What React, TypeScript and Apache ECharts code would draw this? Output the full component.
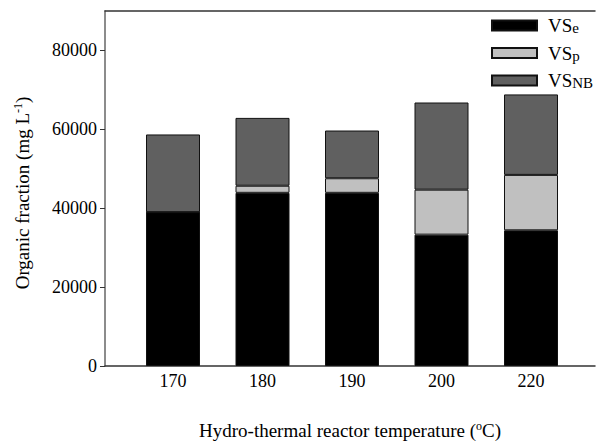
import React, { useEffect, useRef } from "react";
import * as echarts from "echarts";

const categories = ["170", "180", "190", "200", "220"];
const vsE = [39000, 43900, 43900, 33300, 34400];
const vsP = [0, 1800, 3700, 11400, 14050];
const vsNB = [19700, 17200, 12100, 22100, 20400];
const yTicks = [0, 20000, 40000, 60000, 80000];
const seriesNames = ["VSe", "VSp", "VSNB"];

const FONT = "'Liberation Serif', 'Times New Roman', serif";

export default function App() {
  const ref = useRef<HTMLDivElement>(null);
  useEffect(() => {
    document.body.style.margin = "0";
    if (!ref.current) return;
    const chart = echarts.init(ref.current, null, { renderer: "svg" });
    const mk = (name: string, vals: number[], color: string) => ({
      name,
      type: "bar",
      stack: "total",
      barWidth: 54,
      xAxisIndex: 0,
      yAxisIndex: 0,
      data: vals,
      itemStyle: { color, borderColor: "#111", borderWidth: 1 },
      emphasis: { disabled: true },
    });
    const subMap: Record<string, string> = { VSe: "e", VSp: "p", VSNB: "NB" };
    const lineOnly = (pos: string) => ({
      type: "value",
      gridIndex: 1,
      position: pos,
      min: 0,
      max: 1,
      splitLine: { show: false },
      axisLine: { show: true, onZero: false, lineStyle: { color: "#333", width: 1.5 } },
      axisTick: { show: false },
      axisLabel: { show: false },
    });
    chart.setOption({
      animation: false,
      backgroundColor: "#fff",
      grid: [
        { left: 128.25, right: 21.25, top: 11, bottom: 78, containLabel: false },
        { left: 105, right: 2, top: 11, bottom: 78, containLabel: false },
      ],
      xAxis: [
        {
          type: "category",
          gridIndex: 0,
          data: categories,
          boundaryGap: true,
          axisLine: { show: false },
          axisTick: { show: false },
          axisLabel: {
            fontFamily: FONT,
            fontSize: 18,
            color: "#000",
            margin: 6,
          },
        },
        lineOnly("bottom"),
        lineOnly("top"),
      ],
      yAxis: [
        {
          type: "value",
          gridIndex: 0,
          min: 0,
          max: 90000,
          show: false,
          splitLine: { show: false },
        },
        {
          type: "value",
          gridIndex: 1,
          min: 0,
          max: 90000,
          splitLine: { show: false },
          axisLine: { show: true, onZero: false, lineStyle: { color: "#666", width: 1.5 } },
          axisTick: {
            show: true,
            customValues: yTicks,
            length: 5,
            lineStyle: { color: "#333" },
          },
          axisLabel: {
            customValues: yTicks,
            formatter: (v: number) => String(v),
            fontFamily: FONT,
            fontSize: 18,
            color: "#000",
            margin: 8,
          },
        },
      ],
      legend: {
        orient: "vertical",
        left: 491,
        top: 16,
        padding: 0,
        width: 106,
        itemWidth: 45,
        itemHeight: 10,
        itemGap: 8,
        icon: "rect",
        data: seriesNames,
        formatter: (name: string) => `{n|VS}{s|${subMap[name]}}`,
        textStyle: {
          color: "#000",
          padding: [0, 0, 0, 6],
          rich: {
            n: { fontFamily: FONT, fontSize: 19, lineHeight: 20, color: "#000", verticalAlign: "middle" },
            s: { fontFamily: FONT, fontSize: 15, lineHeight: 8, color: "#000", verticalAlign: "bottom" },
          },
        },
      },
      graphic: [
        {
          type: "text",
          x: 22,
          y: 193,
          rotation: Math.PI / 2,
          style: {
            text: "{n|Organic fraction (mg L}{s|-1}{n|)}",
            align: "center",
            verticalAlign: "middle",
            rich: {
              n: { fontFamily: FONT, fontSize: 19, lineHeight: 20, fill: "#000", verticalAlign: "middle" },
              s: { fontFamily: FONT, fontSize: 12, lineHeight: 8, fill: "#000", verticalAlign: "top" },
            },
          },
        },
        {
          type: "text",
          x: 350,
          y: 430,
          style: {
            text: "{n|Hydro-thermal reactor temperature (}{s|o}{n|C)}",
            align: "center",
            verticalAlign: "middle",
            rich: {
              n: { fontFamily: FONT, fontSize: 19, lineHeight: 20, fill: "#000", verticalAlign: "middle" },
              s: { fontFamily: FONT, fontSize: 12, lineHeight: 8, fill: "#000", verticalAlign: "top" },
            },
          },
        },
      ],
      series: [
        mk("VSe", vsE, "#000000"),
        mk("VSp", vsP, "#c0c0c0"),
        mk("VSNB", vsNB, "#606060"),
      ],
    });
    return () => chart.dispose();
  }, []);
  return <div ref={ref} style={{ width: 597, height: 444 }} />;
}
